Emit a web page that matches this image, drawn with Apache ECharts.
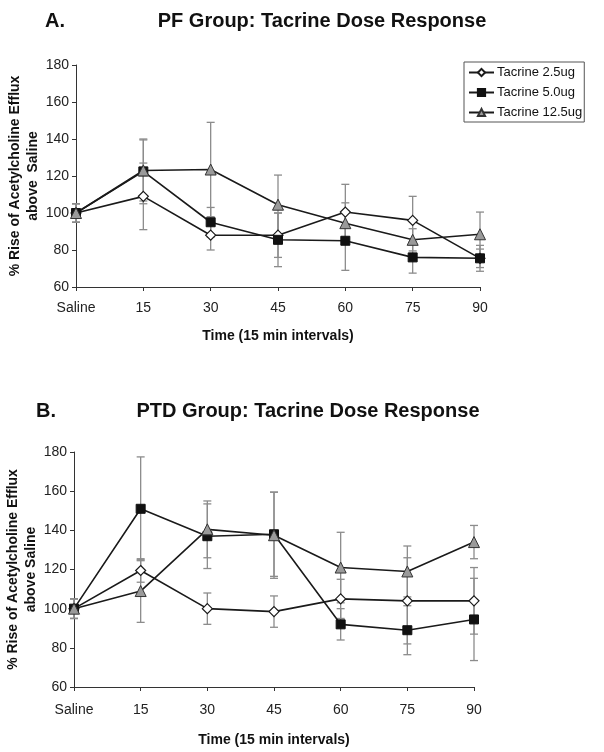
<!DOCTYPE html>
<html>
<head>
<meta charset="utf-8">
<script src="https://cdn.jsdelivr.net/npm/echarts@6/dist/echarts.min.js"></script>
<style>html,body{margin:0;padding:0;background:#fff}#c{width:604px;height:752px}</style>
</head>
<body>
<div id="c"></div>
<script>
var categories = ['Saline','15','30','45','60','75','90'];
var seriesNames = ['Tacrine 2.5ug','Tacrine 5.0ug','Tacrine 12.5ug'];
var yTicks = [60,80,100,120,140,160,180];

// Panel A: PF group
var pf25 = [100,109,88,88,100.5,96,75.5];
var pf25Err = [5,18,8,12,15,13,5];
var pf50 = [100,122.5,95,85.5,85,76,75.5];
var pf50Err = [5,17.5,8,14.5,16,8.5,7];
var pf125 = [100,123,123.5,104.5,94.5,85.5,88.5];
var pf125Err = [5,16.5,25.5,16,11,6,12];

// Panel B: PTD group
var ptd25 = [100,119.5,100,98.5,105,104,104];
var ptd25Err = [5,6,8,8,10,22,17];
var ptd50 = [100,151,137,138,92,89,94.5];
var ptd50Err = [5,26.5,16.5,21.5,8,12.5,21];
var ptd125 = [100,109,140.5,137.5,121,119,134];
var ptd125Err = [5,16,14.5,22,18,13,8.5];

var FONT = '"Liberation Sans", Arial, sans-serif';

function errData(vals, errs){
  return vals.map(function(v,i){ return [i, v-errs[i], v+errs[i]]; });
}
function errSeries(vals, errs, gi){
  return {
    type:'custom', xAxisIndex:gi, yAxisIndex:gi, z:1, silent:true,
    encode:{x:0, y:[1,2]},
    data: errData(vals, errs),
    renderItem: function(params, api){
      var x = api.value(0);
      var lo = api.coord([x, api.value(1)]);
      var hi = api.coord([x, api.value(2)]);
      var w = 4;
      var st = {stroke:'#8c8c8c', lineWidth:1.3};
      return {type:'group', children:[
        {type:'line', shape:{x1:lo[0],y1:lo[1],x2:hi[0],y2:hi[1]}, style:st},
        {type:'line', shape:{x1:lo[0]-w,y1:lo[1],x2:lo[0]+w,y2:lo[1]}, style:st},
        {type:'line', shape:{x1:hi[0]-w,y1:hi[1],x2:hi[0]+w,y2:hi[1]}, style:st}
      ]};
    }
  };
}
var markerStyles = [
  {symbol:'diamond', symbolSize:10, itemStyle:{color:'#ffffff', borderColor:'#1a1a1a', borderWidth:1.2}},
  {symbol:'rect', symbolSize:9, itemStyle:{color:'#111111', borderColor:'#111111', borderWidth:1}},
  {symbol:'triangle', symbolSize:11, itemStyle:{color:'#9a9a9a', borderColor:'#333333', borderWidth:1}}
];
function lineSeries(idx, vals, gi){
  var m = markerStyles[idx];
  return {
    type:'line', name:seriesNames[idx], xAxisIndex:gi, yAxisIndex:gi, z:3,
    data: vals, symbol:m.symbol, symbolSize:m.symbolSize,
    itemStyle:m.itemStyle, lineStyle:{color:'#1a1a1a', width:1.6},
    emphasis:{disabled:true}, animation:false
  };
}
function xAxis(gi, labelMargin, nameGap){
  return {
    type:'category', gridIndex:gi, data:categories, boundaryGap:false,
    axisLine:{lineStyle:{color:'#333', width:1}},
    axisTick:{alignWithLabel:true, length:4, lineStyle:{color:'#333'}},
    axisLabel:{color:'#222', fontSize:14, fontFamily:FONT, margin:labelMargin},
    name:'Time (15 min intervals)', nameLocation:'middle', nameGap:nameGap, nameMoveOverlap:false,
    nameTextStyle:{color:'#111', fontSize:14, fontWeight:'bold', fontFamily:FONT}
  };
}
function yAxis(gi, label){
  return {
    type:'value', gridIndex:gi, min:60, max:180, interval:20,
    axisLine:{show:true, lineStyle:{color:'#333', width:1}},
    axisTick:{show:true, length:4, lineStyle:{color:'#333'}},
    splitLine:{show:false},
    axisLabel:{color:'#222', fontSize:14, fontFamily:FONT, margin:7},
    name:label, nameLocation:'middle', nameRotate:90, nameGap:34, nameMoveOverlap:false,
    nameTextStyle:{color:'#111', fontSize:14, fontWeight:'bold', fontFamily:FONT, lineHeight:18, align:'center'}
  };
}

var chart = echarts.init(document.getElementById('c'), null, {renderer:'canvas'});
chart.setOption({
  animation:false,
  backgroundColor:'#ffffff',
  title:[
    {text:'A.', left:45, top:11, padding:0, textStyle:{fontSize:20, fontWeight:'bold', color:'#111', fontFamily:FONT}},
    {text:'PF Group: Tacrine Dose Response', left:322, top:11, padding:0, textAlign:'center', textStyle:{fontSize:20, fontWeight:'bold', color:'#111', fontFamily:FONT}},
    {text:'B.', left:36, top:401, padding:0, textStyle:{fontSize:20, fontWeight:'bold', color:'#111', fontFamily:FONT}},
    {text:'PTD Group: Tacrine Dose Response', left:308, top:401, padding:0, textAlign:'center', textStyle:{fontSize:20, fontWeight:'bold', color:'#111', fontFamily:FONT}}
  ],
  legend:{
    data:seriesNames, orient:'vertical', left:464, top:62,
    itemWidth:25, itemHeight:9, itemGap:7,
    padding:[4,2,3,4], borderColor:'#555', borderWidth:1,
    textStyle:{color:'#111', fontSize:13, fontFamily:FONT, padding:[0,0,0,-2]},
    selectedMode:false
  },
  grid:[
    {left:76, top:65, width:404, height:222, containLabel:false, outerBoundsMode:'none'},
    {left:74, top:452, width:400, height:235, containLabel:false, outerBoundsMode:'none'}
  ],
  xAxis:[xAxis(0, 14, 42), xAxis(1, 16, 46)],
  yAxis:[yAxis(0, '% Rise of Acetylcholine Efflux\nabove  Saline'), yAxis(1, '% Rise of Acetylcholine Efflux\nabove Saline')],
  series:[
    errSeries(pf25, pf25Err, 0), errSeries(pf50, pf50Err, 0), errSeries(pf125, pf125Err, 0),
    lineSeries(0, pf25, 0), lineSeries(1, pf50, 0), lineSeries(2, pf125, 0),
    errSeries(ptd25, ptd25Err, 1), errSeries(ptd50, ptd50Err, 1), errSeries(ptd125, ptd125Err, 1),
    lineSeries(0, ptd25, 1), lineSeries(1, ptd50, 1), lineSeries(2, ptd125, 1)
  ]
});
</script>
</body>
</html>
